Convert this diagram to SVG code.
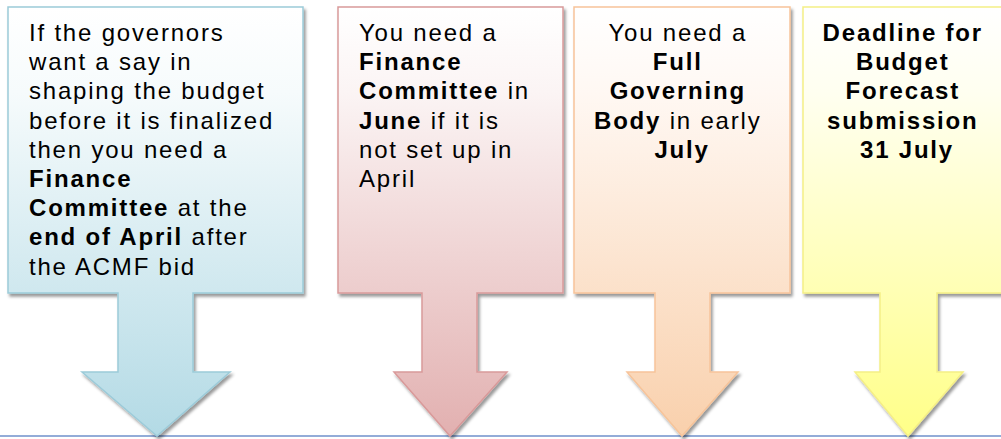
<svg xmlns="http://www.w3.org/2000/svg" width="1001" height="439" viewBox="0 0 1001 439">
  <defs>
    <linearGradient id="gBlue" gradientUnits="userSpaceOnUse" x1="0" y1="7" x2="0" y2="436">
      <stop offset="0" stop-color="#ffffff"/>
      <stop offset="0.2" stop-color="#f6fbfc"/>
      <stop offset="1" stop-color="#b3dae5"/>
    </linearGradient>
    <linearGradient id="gPink" gradientUnits="userSpaceOnUse" x1="0" y1="7" x2="0" y2="436">
      <stop offset="0" stop-color="#ffffff"/>
      <stop offset="0.2" stop-color="#fbf4f4"/>
      <stop offset="1" stop-color="#e2b0b0"/>
    </linearGradient>
    <linearGradient id="gOrange" gradientUnits="userSpaceOnUse" x1="0" y1="7" x2="0" y2="436">
      <stop offset="0" stop-color="#ffffff"/>
      <stop offset="0.2" stop-color="#fff8f3"/>
      <stop offset="1" stop-color="#f9d0ac"/>
    </linearGradient>
    <linearGradient id="gYellow" gradientUnits="userSpaceOnUse" x1="0" y1="7" x2="0" y2="436">
      <stop offset="0" stop-color="#ffffff"/>
      <stop offset="0.2" stop-color="#fffff0"/>
      <stop offset="1" stop-color="#ffff88"/>
    </linearGradient>
    <filter id="shadow" x="-5%" y="-5%" width="115%" height="115%">
      <feDropShadow dx="2" dy="3" stdDeviation="1.5" flood-color="#000000" flood-opacity="0.4"/>
    </filter>
  </defs>
  <style>
    .shape { stroke-width: 1.5; filter: url(#shadow); }
    .t { font-family: "Liberation Sans", Arial, sans-serif; font-size: 24px; letter-spacing: 1.8px; fill: #000000; }
    .b { font-weight: bold; }
    .c { text-anchor: middle; }
  </style>
  <rect x="0" y="0" width="1001" height="439" fill="#ffffff"/>

  <g id="baseline">
    <line x1="0" y1="436" x2="1001" y2="436" stroke="#93acd8" stroke-width="2"/>
  </g>

  <g id="node-april">
    <path class="shape" d="M8,7 H303 V293 H193 V372 H230 L157,436 L82,372 H118 V293 H8 Z" fill="url(#gBlue)" stroke="#9ccbd9"/>
    <text class="t">
      <tspan x="29" y="41">If the governors</tspan>
      <tspan x="29" y="70.2">want a say in</tspan>
      <tspan x="29" y="99.4">shaping the budget</tspan>
      <tspan x="29" y="128.6">before it is finalized</tspan>
      <tspan x="29" y="157.8">then you need a</tspan>
      <tspan x="29" y="187" class="b">Finance</tspan>
      <tspan x="29" y="216.2" class="b">Committee</tspan><tspan> at the</tspan>
      <tspan x="29" y="245.4" class="b">end of April</tspan><tspan> after</tspan>
      <tspan x="29" y="274.6">the ACMF bid</tspan>
    </text>
  </g>

  <g id="node-june">
    <path class="shape" d="M338,7 H563 V293 H477 V372 H507 L450,436 L394,372 H422 V293 H338 Z" fill="url(#gPink)" stroke="#d99a9a"/>
    <text class="t">
      <tspan x="359" y="41">You need a</tspan>
      <tspan x="359" y="70.2" class="b">Finance</tspan>
      <tspan x="359" y="99.4" class="b">Committee</tspan><tspan> in</tspan>
      <tspan x="359" y="128.6" class="b">June</tspan><tspan> if it is</tspan>
      <tspan x="359" y="157.8">not set up in</tspan>
      <tspan x="359" y="187">April</tspan>
    </text>
  </g>

  <g id="node-july">
    <path class="shape" d="M574,7 H790 V293 H710 V372 H738 L682,436 L627,372 H655 V293 H574 Z" fill="url(#gOrange)" stroke="#f7c49a"/>
    <text class="t c">
      <tspan x="682" y="41">You need a</tspan>
      <tspan x="682" y="70.2" class="b">Full</tspan>
      <tspan x="682" y="99.4" class="b">Governing</tspan>
      <tspan x="682" y="128.6" class="b">Body</tspan><tspan> in early</tspan>
      <tspan x="682" y="157.8" class="b">July</tspan>
    </text>
  </g>

  <g id="node-deadline">
    <path class="shape" d="M803,7 H1013 V293 H937 V372 H963 L908,436 L855,372 H880 V293 H803 Z" fill="url(#gYellow)" stroke="#f5ef86"/>
    <text class="t c b">
      <tspan x="907" y="41">Deadline for</tspan>
      <tspan x="907" y="70.2">Budget</tspan>
      <tspan x="907" y="99.4">Forecast</tspan>
      <tspan x="907" y="128.6">submission</tspan>
      <tspan x="907" y="157.8">31 July</tspan>
    </text>
  </g>
</svg>
